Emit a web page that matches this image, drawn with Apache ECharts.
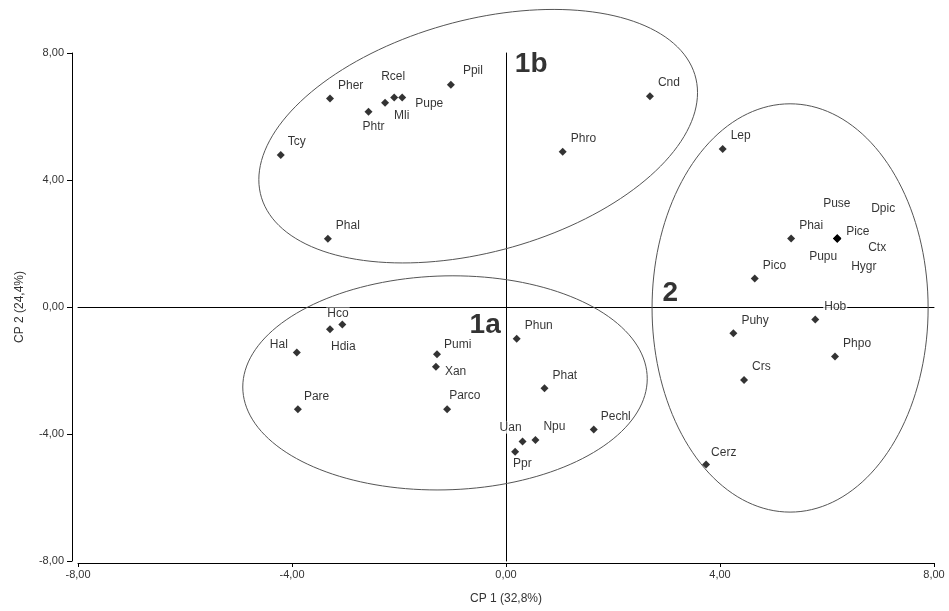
<!DOCTYPE html>
<html>
<head>
<meta charset="utf-8">
<script src="https://cdn.jsdelivr.net/npm/echarts@6/dist/echarts.min.js"></script>
<style>
html,body{margin:0;padding:0;background:#fff}
#pca{width:949px;height:611px}
</style>
</head>
<body>
<div id="pca"></div>
<script>
// species scores on the first two principal components
var names = ['Pher','Phtr','Mli','Rcel','Pupe','Ppil','Tcy','Phal','Phro','Cnd',
    'Hco','Hdia','Hal','Pare','Pumi','Xan','Parco','Phun','Phat','Pechl','Uan','Npu','Ppr',
    'Lep','Phai','Pice','Puse','Dpic','Ctx','Pupu','Hygr','Pico','Hob','Puhy','Phpo','Crs','Cerz'];
var cp1 = [-3.29,-2.57,-2.26,-2.09,-1.94,-1.03,-4.21,-3.33,1.06,2.69,
    -3.06,-3.29,-3.91,-3.89,-1.29,-1.31,-1.10,0.20,0.72,1.64,0.31,0.55,0.17,
    4.05,5.33,6.19,6.19,6.19,6.19,6.19,6.19,4.65,5.78,4.25,6.15,4.45,3.74];
var cp2 = [6.57,6.15,6.43,6.60,6.60,7.00,4.79,2.15,4.89,6.64,
    -0.55,-0.70,-1.43,-3.22,-1.49,-1.88,-3.22,-1.00,-2.56,-3.86,-4.24,-4.19,-4.56,
    4.98,2.16,2.16,2.16,2.16,2.16,2.16,2.16,0.90,-0.39,-0.83,-1.56,-2.30,-4.96];

// groups: label position and ellipse (centre + two conjugate semi-axes, data units)
var groupNames = ['1b','1a','2'];
var groupX = [0.47,-0.39,3.07];
var groupY = [7.65,-0.57,0.44];
var ellCx = [-0.52,-1.14,5.31];
var ellCy = [5.38,-2.39,-0.03];
var ellUx = [4.10,3.78,2.58];
var ellUy = [1.37,0.13,0];
var ellVx = [0,0,0];
var ellVy = [3.75,3.37,6.43];

// label placement (text left edge / middle, px from the point)
var labelAt = {
    Phtr:[-7,15], Mli:[8,13], Rcel:[-14,-21], Pupe:[12,6], Ppil:[11,-14], Tcy:[6,-13],
    Hco:[-16,-11], Hdia:[0,17], Hal:[-28,-8], Pare:[5,-13], Pumi:[6,-10], Xan:[8,5],
    Parco:[1,-14], Pechl:[6,-13], Uan:[-24,-14], Ppr:[-3,12], Pice:[8,-7],
    Puse:[-15,-35], Dpic:[33,-30], Ctx:[30,9], Pupu:[-29,18], Hygr:[13,28],
    Hob:[8,-13], Cerz:[4,-12]
};

var symSize = 8;
var font = '"Liberation Sans", Arial, sans-serif';

function fmt(v) {
    return v.toFixed(2).replace('.', ',');
}

var myChart = echarts.init(document.getElementById('pca'));

var pts = names.map(function (n, i) {
    var p = labelAt[n] || [7, -13];
    return {
        name: n,
        value: [cp1[i], cp2[i]],
        label: { offset: [p[0] - symSize / 2, p[1]] }
    };
});

var groupPts = groupNames.map(function (n, i) {
    return { name: n, value: [groupX[i], groupY[i]] };
});

var ells = groupNames.map(function (n, i) {
    return [ellCx[i], ellCy[i], ellUx[i], ellUy[i], ellVx[i], ellVy[i]];
});

var option = {
    animation: false,
    backgroundColor: '#fff',
    grid: { left: 78, right: 15, top: 53, bottom: 50 },
    xAxis: [{
        type: 'value', min: -8, max: 8, interval: 4, position: 'bottom', offset: 2,
        axisLine: { onZero: false, lineStyle: { color: '#000', width: 1 } },
        axisTick: { length: 4, lineStyle: { color: '#000' } },
        axisLabel: { formatter: fmt, color: '#333', fontSize: 11, margin: 6, fontFamily: font },
        splitLine: { show: false },
        name: 'CP 1 (32,8%)', nameLocation: 'middle', nameGap: 30,
        nameTextStyle: { color: '#333', fontSize: 12, fontFamily: font }
    }, {
        type: 'value', min: -8, max: 8, position: 'bottom',
        axisLine: { onZero: true, onZeroAxisIndex: 0, lineStyle: { color: '#000', width: 1 } },
        axisTick: { show: false }, axisLabel: { show: false }, splitLine: { show: false }
    }],
    yAxis: [{
        type: 'value', min: -8, max: 8, interval: 4, position: 'left', offset: 6,
        axisLine: { show: true, onZero: false, lineStyle: { color: '#000', width: 1 } },
        axisTick: { show: true, length: 5, lineStyle: { color: '#000' } },
        axisLabel: { formatter: fmt, color: '#333', fontSize: 11, margin: 8, fontFamily: font },
        splitLine: { show: false },
        name: 'CP 2 (24,4%)', nameLocation: 'middle', nameGap: 46,
        nameTextStyle: { color: '#333', fontSize: 12, fontFamily: font }
    }, {
        type: 'value', min: -8, max: 8, position: 'left',
        axisLine: { show: true, onZero: true, onZeroAxisIndex: 0, lineStyle: { color: '#000', width: 1 } },
        axisTick: { show: false }, axisLabel: { show: false }, splitLine: { show: false }
    }],
    series: [{
        type: 'scatter',
        name: 'especies',
        symbol: 'diamond',
        symbolSize: symSize,
        itemStyle: { color: '#000' },
        label: {
            show: true, position: 'right', distance: 0, formatter: '{b}',
            color: '#000', fontSize: 12, fontFamily: font,
            backgroundColor: '#fff', padding: [0, 1]
        },
        emphasis: { disabled: true },
        data: pts,
        z: 2
    }, {
        type: 'scatter',
        name: 'grupos',
        symbolSize: 1,
        itemStyle: { color: 'rgba(0,0,0,0)' },
        label: {
            show: true, position: 'inside', formatter: '{b}',
            color: '#000', fontSize: 28, fontWeight: 'bold', fontFamily: font
        },
        emphasis: { disabled: true },
        data: groupPts,
        z: 3
    }, {
        type: 'custom',
        name: 'elipses',
        clip: false,
        silent: true,
        z: 5,
        renderItem: function (params, api) {
            var poly = [];
            for (var k = 0; k < 160; k++) {
                var t = 2 * Math.PI * k / 160;
                poly.push(api.coord([
                    api.value(0) + api.value(2) * Math.cos(t) + api.value(4) * Math.sin(t),
                    api.value(1) + api.value(3) * Math.cos(t) + api.value(5) * Math.sin(t)
                ]));
            }
            return {
                type: 'polygon',
                shape: { points: poly },
                style: { fill: 'none', stroke: '#555', lineWidth: 1 }
            };
        },
        data: ells
    }]
};

myChart.setOption(option);
window.addEventListener('resize', function () {
    myChart.resize();
});
</script>
</body>
</html>
